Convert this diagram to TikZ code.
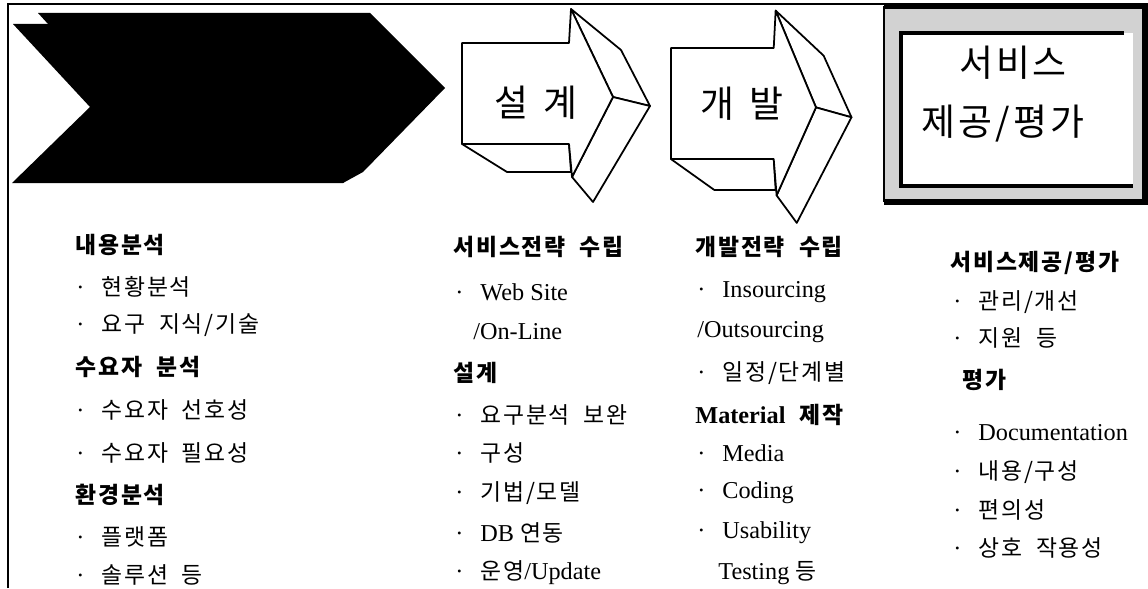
\documentclass[tikz,border=0pt]{standalone}
\usepackage{fontspec}
\setmainfont{Liberation Serif}
\newfontfamily\kr[LetterSpace=8, WordSpace=2]{Noto Sans CJK KR}
\usetikzlibrary{positioning}

\newcommand\ko[1]{{\fontsize{13}{15}\selectfont\kr #1}}
\newcommand\bul{\textperiodcentered\hspace{.7em}}

\begin{document}
\begin{tikzpicture}[
    x=0.02cm, y=-0.02cm,
    heading/.style={anchor=west, inner sep=0pt, font=\fontsize{13}{15}\selectfont\kr\bfseries},
    entry/.style={anchor=west, inner sep=0pt, font=\fontsize{13.8}{15}\selectfont},
    title/.style={inner sep=0pt, font=\fontsize{21}{24}\selectfont\kr},
    face/.style={draw, fill=white, line width=1pt, line join=round},
    arrowblock/.pic={
        \draw[face] (0,101) -- (107,101) -- (109,129) -- (45,129) -- cycle;
        \draw[face] (109,-34) -- (159,7) -- (188,63) -- (151,54) -- cycle;
        \draw[face] (151,54) -- (188,63) -- (131,159) -- (110,134) -- cycle;
        \draw[face] (0,0) -- (107,0) -- (109,-34) -- (151,54) -- (110,134) -- (107,101) -- (0,101) -- cycle;
    }
    ]
    \useasboundingbox (0,0) rectangle (1148,588);

    % frame
    \draw[line width=1pt] (8,588) -- (8,4) -- (884,4);

    % black chevron
    \fill[black] (38,13) -- (370,13) -- (445,88) -- (363,172) -- (343,183) -- (48,24) -- cycle;
    \fill[black] (13,24) -- (350,24) -- (430,103) -- (343,183) -- (12,183) -- (90,107) -- cycle;

    % 3d arrows
    \pic at (462,43) {arrowblock};
    \pic[xscale=.96, yscale=1.1] at (671,48) {arrowblock};
    \node[title] (design) at (536,103) {설\hspace{.4em}계};
    \node[title] (develop) at (742,104) {개\hspace{.4em}발};

    % service box
    \fill[gray!35] (884,5) rectangle (1146,203);
    \draw[line width=0.8pt] (884,6) -- (884,202);
    \draw[line width=3pt] (884,6) -- (1145,6) -- (1145,202) -- (884,202);
    \fill[white] (901,33) rectangle (1133,186);
    \draw[line width=2pt] (1124,33) -- (901,33) -- (901,186) -- (1133,186);
    \node[title] (svc1) at (1013,63) {서비스};
    \node[title] (svc2) at (1003,124) {제공/평가};

    % column 1
    \node[heading] (c1h1) at (75,245) {내용분석};
    \node[entry] (c1i1) at (76,287) {\bul\ko{현황분석}};
    \node[entry] (c1i2) at (76,325) {\bul\ko{요구 지식/기술}};
    \node[heading] (c1h2) at (75,367) {수요자 분석};
    \node[entry] (c1i3) at (76,410) {\bul\ko{수요자 선호성}};
    \node[entry] (c1i4) at (76,453) {\bul\ko{수요자 필요성}};
    \node[heading] (c1h3) at (75,495) {환경분석};
    \node[entry] (c1i5) at (76,537) {\bul\ko{플랫폼}};
    \node[entry] (c1i6) at (76,575) {\bul\ko{솔루션 등}};

    % column 2
    \node[heading] (c2h1) at (453,247) {서비스전략 수립};
    \node[entry] (c2i1) at (455,292) {\bul Web Site};
    \node[entry] (c2i2) at (473,332) {/On-Line};
    \node[heading] (c2h2) at (453,373) {설계};
    \node[entry] (c2i3) at (455,415) {\bul\ko{요구분석 보완}};
    \node[entry] (c2i4) at (455,453) {\bul\ko{구성}};
    \node[entry] (c2i5) at (455,493) {\bul\ko{기법/모델}};
    \node[entry] (c2i6) at (455,533) {\bul DB \ko{연동}};
    \node[entry] (c2i7) at (455,573) {\bul\ko{운영}/Update};

    % column 3
    \node[heading] (c3h1) at (695,247) {개발전략 수립};
    \node[entry] (c3i1) at (697,292) {\bul Insourcing};
    \node[entry] (c3i2) at (697,332) {/Outsourcing};
    \node[entry] (c3i3) at (697,373) {\bul\ko{일정/단계별}};
    \node[heading] (c3h2) at (695,415) {{\rmfamily\bfseries\fontsize{13.8}{15}\selectfont Material} 제작};
    \node[entry] (c3i4) at (697,453) {\bul Media};
    \node[entry] (c3i5) at (697,493) {\bul Coding};
    \node[entry] (c3i6) at (697,533) {\bul Usability};
    \node[entry] (c3i7) at (718,573) {Testing \ko{등}};

    % column 4
    \node[heading] (c4h1) at (950,263) {서비스제공/평가};
    \node[entry] (c4i1) at (953,302) {\bul\ko{관리/개선}};
    \node[entry] (c4i2) at (953,338) {\bul\ko{지원 등}};
    \node[heading] (c4h2) at (962,380) {평가};
    \node[entry] (c4i3) at (953,433) {\bul Documentation};
    \node[entry] (c4i4) at (953,472) {\bul\ko{내용/구성}};
    \node[entry] (c4i5) at (953,510) {\bul\ko{편의성}};
    \node[entry] (c4i6) at (953,548) {\bul\ko{상호 작용성}};

\end{tikzpicture}
\end{document}
